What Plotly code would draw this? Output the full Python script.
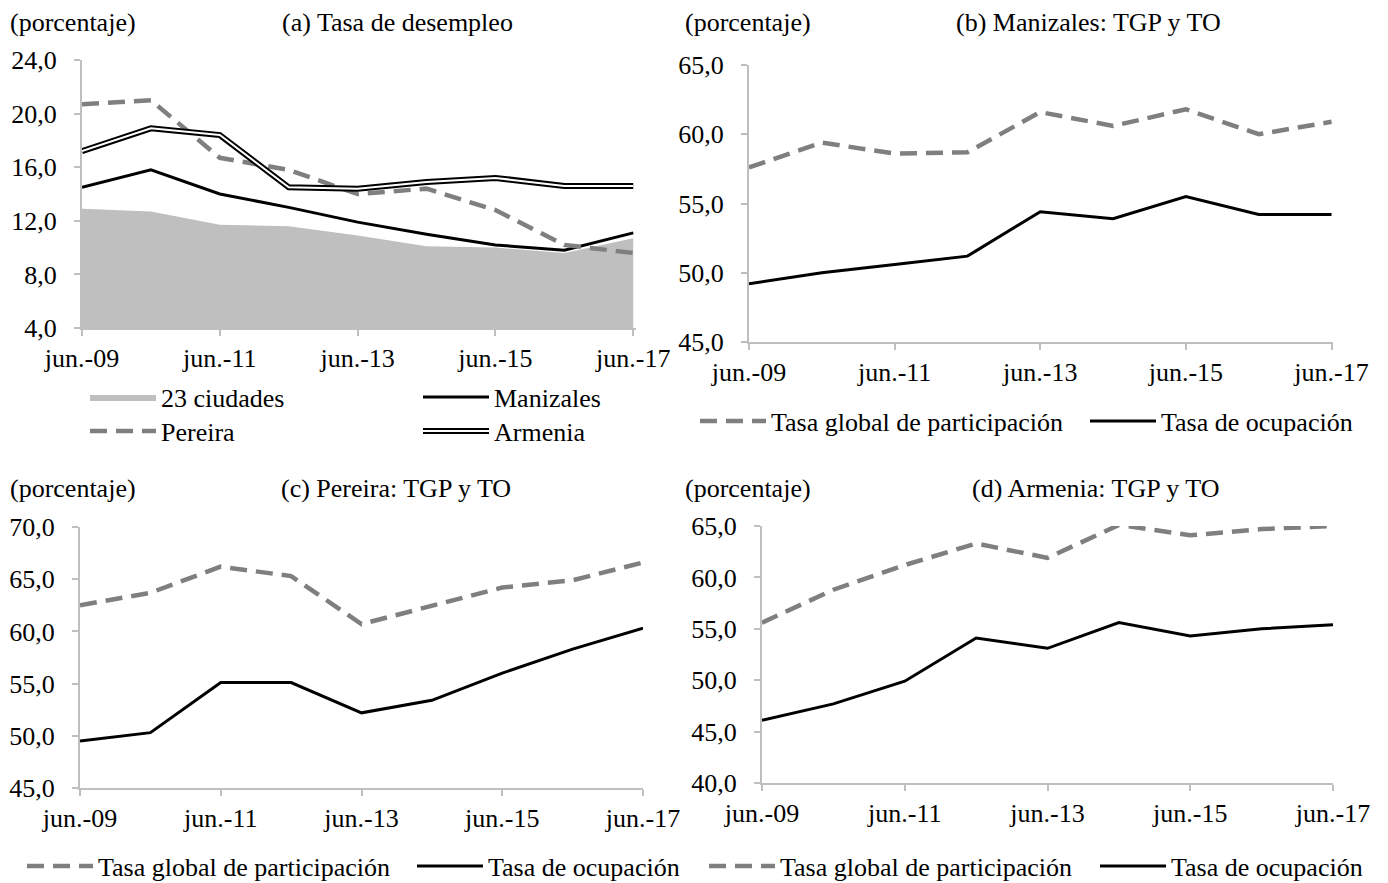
import plotly.graph_objects as go

# periodos (junio de cada año)
periods = ["jun.-09", "jun.-10", "jun.-11", "jun.-12", "jun.-13",
           "jun.-14", "jun.-15", "jun.-16", "jun.-17"]
tick_periods = periods[::2]

# (a) tasa de desempleo
td_23_ciudades = [12.9, 12.7, 11.7, 11.6, 10.9, 10.1, 10.0, 9.6, 10.7]
td_manizales = [14.5, 15.8, 14.0, 13.0, 11.9, 11.0, 10.2, 9.8, 11.1]
td_pereira = [20.7, 21.0, 16.7, 15.8, 14.0, 14.4, 12.8, 10.2, 9.6]
td_armenia = [17.2, 18.9, 18.4, 14.5, 14.4, 14.9, 15.2, 14.6, 14.6]

# (b) Manizales
tgp_manizales = [57.6, 59.4, 58.6, 58.7, 61.6, 60.6, 61.8, 60.0, 60.9]
to_manizales = [49.2, 50.0, 50.6, 51.2, 54.4, 53.9, 55.5, 54.2, 54.2]

# (c) Pereira
tgp_pereira = [62.5, 63.7, 66.2, 65.3, 60.7, 62.4, 64.2, 64.9, 66.6]
to_pereira = [49.5, 50.3, 55.1, 55.1, 52.2, 53.4, 56.0, 58.3, 60.3]

# (d) Armenia
tgp_armenia = [55.6, 58.8, 61.2, 63.3, 61.9, 65.1, 64.1, 64.7, 65.0]
to_armenia = [46.1, 47.7, 49.9, 54.1, 53.1, 55.6, 54.3, 55.0, 55.4]

# the page body has an 8px margin, so the figure sits at (8, 8)
OFF = 8
W, H = 1388 - OFF, 883 - OFF
FONT = "Liberation Serif, Times New Roman, serif"
FS = 26
GRAY_DASH = "#7f7f7f"
AXIS_GRAY = "#bfbfbf"
DASH = "17px,9px"
SWATCH = 66


def px_x(p):
    return (p - OFF) / W


def px_y(p):
    return 1 - (p - OFF) / H


fig = go.Figure()

# (a)
fig.add_trace(go.Scatter(x=periods, y=td_23_ciudades, name="23 ciudades", mode="lines",
                         fill="tozeroy", fillcolor="#bfbfbf", line=dict(width=0, color="#bfbfbf"),
                         xaxis="x", yaxis="y", legend="legend"))
fig.add_trace(go.Scatter(x=periods, y=td_manizales, name="Manizales", mode="lines",
                         line=dict(color="black", width=3),
                         xaxis="x", yaxis="y", legend="legend2"))
fig.add_trace(go.Scatter(x=periods, y=td_pereira, name="Pereira", mode="lines",
                         line=dict(color=GRAY_DASH, width=4.5, dash=DASH),
                         xaxis="x", yaxis="y", legend="legend3"))
fig.add_trace(go.Scatter(x=periods, y=td_armenia, name="Armenia", mode="lines",
                         line=dict(color="black", width=6),
                         xaxis="x", yaxis="y", legend="legend4"))
fig.add_trace(go.Scatter(x=periods, y=td_armenia, name="Armenia", mode="lines",
                         line=dict(color="white", width=2),
                         xaxis="x", yaxis="y", legend="legend5"))

# (b), (c), (d)
panels = [
    (tgp_manizales, to_manizales, "x2", "y2", "legend6", "legend7"),
    (tgp_pereira, to_pereira, "x3", "y3", "legend8", "legend9"),
    (tgp_armenia, to_armenia, "x4", "y4", "legend10", "legend11"),
]
for tgp, to, xa, ya, lg1, lg2 in panels:
    fig.add_trace(go.Scatter(x=periods, y=tgp, name="Tasa global de participación", mode="lines",
                             line=dict(color=GRAY_DASH, width=4.5, dash=DASH),
                             xaxis=xa, yaxis=ya, legend=lg1))
    fig.add_trace(go.Scatter(x=periods, y=to, name="Tasa de ocupación", mode="lines",
                             line=dict(color="black", width=3),
                             xaxis=xa, yaxis=ya, legend=lg2))

# panel boxes in pixels: (left, right, top, bottom, yrange, dtick, xmax)
boxes = {
    "": (82, 636, 60, 328, [4, 24], 4, 8.04),
    "2": (749, 1333, 65, 342, [45, 65], 5, 8.02),
    "3": (80, 643, 527, 788, [45, 70], 5, 8.0),
    "4": (762, 1333, 526, 783, [40, 65], 5, 8.0),
}
axis_style = dict(showgrid=False, zeroline=False, showline=True, linecolor=AXIS_GRAY,
                  linewidth=2, ticks="outside", tickcolor=AXIS_GRAY, tickwidth=2, ticklen=6,
                  automargin=False, tickfont=dict(family=FONT, size=FS, color="black"))
for key, (l, r, t, b, yr, dt, xmax) in boxes.items():
    fig.update_layout({
        f"xaxis{key}": dict(axis_style, domain=[px_x(l), px_x(r)], range=[0, xmax],
                            type="category", categoryarray=periods, tickvals=tick_periods,
                            anchor=f"y{key}"),
        f"yaxis{key}": dict(axis_style, domain=[px_y(b), px_y(t)], range=yr, dtick=dt,
                            tickformat=".1f", ticklabelstandoff=12, anchor=f"x{key}"),
    })

# one legend per entry, positioned by where its text starts
leg_common = dict(orientation="h", bgcolor="rgba(0,0,0,0)", xanchor="left", yanchor="middle",
                  font=dict(family=FONT, size=FS, color="black"), itemwidth=SWATCH,
                  itemclick=False, itemdoubleclick=False, borderwidth=0)
legend_spots = {
    "legend": (163, 397), "legend2": (496, 397), "legend3": (163, 431),
    "legend4": (496, 431), "legend5": (496, 431),
    "legend6": (773, 421), "legend7": (1163, 421),
    "legend8": (100, 866), "legend9": (490, 866),
    "legend10": (782, 866), "legend11": (1173, 866),
}
for lg, (tx, ty) in legend_spots.items():
    spec = dict(leg_common, x=px_x(tx - SWATCH - 12), y=px_y(ty))
    if lg == "legend5":
        spec["font"] = dict(family=FONT, size=FS, color="rgba(0,0,0,0)")
    fig.update_layout({lg: spec})

titles = [
    (8, 22, "(porcentaje)", "left"),
    (398, 22, "(a) Tasa de desempleo", "center"),
    (683, 22, "(porcentaje)", "left"),
    (1088, 22, "(b) Manizales: TGP y TO", "center"),
    (8, 488, "(porcentaje)", "left"),
    (396, 488, "(c) Pereira: TGP y TO", "center"),
    (683, 488, "(porcentaje)", "left"),
    (1095, 488, "(d) Armenia: TGP y TO", "center"),
]
for x, y, text, anchor in titles:
    fig.add_annotation(x=px_x(x), y=px_y(y), xref="paper", yref="paper", text=text,
                       showarrow=False, xanchor=anchor, yanchor="middle",
                       font=dict(family=FONT, size=FS, color="black"))

fig.update_layout(
    template="none",
    showlegend=True,
    width=W, height=H,
    margin=dict(l=0, r=0, t=0, b=0, autoexpand=False),
    paper_bgcolor="white", plot_bgcolor="white",
    separators=",.",
    font=dict(family=FONT, size=FS, color="black"),
)

fig.write_html("out.html")
